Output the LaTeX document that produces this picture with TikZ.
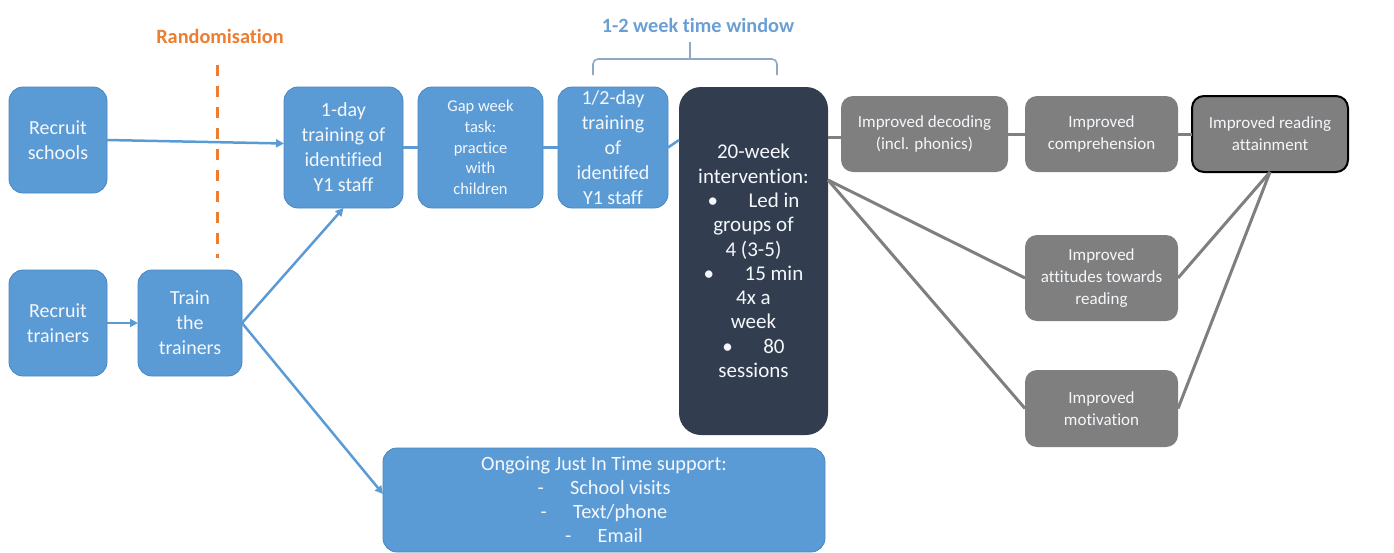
\documentclass[tikz,border=0pt]{standalone}
\usepackage{fontspec}
\setmainfont{Carlito}[Ligatures={NoCommon}]
\usetikzlibrary{arrows.meta,calc}

\definecolor{boxblue}{HTML}{5B9BD5}
\definecolor{boxedge}{HTML}{4A86BE}
\definecolor{darkbox}{HTML}{323E4F}
\definecolor{outgray}{HTML}{7F7F7F}
\definecolor{randorange}{HTML}{ED7D31}
\definecolor{windowblue}{HTML}{6A9FD3}
\definecolor{bracecol}{HTML}{8FA9C4}
\definecolor{boxtext}{HTML}{F4F7FB}

\tikzset{
  basebox/.style={rounded corners=14pt, inner sep=0pt, outer sep=0pt,
    align=center, text=boxtext},
  bluebox/.style={basebox, fill=boxblue, draw=boxedge, line width=0.8pt},
  darkstep/.style={basebox, fill=darkbox, rounded corners=22pt},
  graybox/.style={basebox, fill=outgray, rounded corners=12pt},
  bluelink/.style={draw=boxblue, line width=2.5pt},
  bluearrow/.style={bluelink, -{Triangle[length=8pt,width=8pt]}},
  graylink/.style={draw=outgray, line width=3pt},
  bracket/.style={draw=bracecol, line width=1.6pt},
  bigtext/.style={font=\fontsize{20}{25}\selectfont},
  smalltext/.style={font=\fontsize{16.5}{20.7}\selectfont},
  midtext/.style={font=\fontsize{21}{24.3}\selectfont},
  outtext/.style={font=\fontsize{17}{22}\selectfont},
  heading/.style={font=\fontsize{20.3}{23}\selectfont\bfseries},
}

\begin{document}
\begin{tikzpicture}[x=1pt,y=-1pt]
\useasboundingbox (0,0) rectangle (1394,552);

% headings and the randomisation line
\node[heading, text=randorange] (rand) at (220,36) {Randomisation};
\coordinate (randtop) at (217,65);
\coordinate (randbot) at (217,258);
\draw[randorange, line width=3pt, dash pattern=on 11pt off 10pt] (randtop) -- (randbot);

\node[heading, text=windowblue] (window) at (698,25) {1-2 week time window};
% bracket spanning the second training day and the intervention start
\coordinate (braceL) at (593,75);
\coordinate (braceR) at (777,75);
\coordinate (braceMid) at (690,59);
\coordinate (braceTip) at (690,42);
\draw[bracket, rounded corners=5pt] (braceL) -- (593,59) -- (braceMid) -- (777,59) -- (braceR);
\draw[bracket] (braceMid) -- (braceTip);

% recruitment and training
\node[bluebox, bigtext, minimum width=98pt, minimum height=106pt] (rs) at (58,140) {Recruit\\schools};
\node[bluebox, bigtext, minimum width=98pt, minimum height=106pt] (rt) at (58,323) {Recruit\\trainers};
\node[bluebox, bigtext, minimum width=104pt, minimum height=106pt] (tt) at (190,323) {Train\\the\\trainers};

\node[bluebox, bigtext, minimum width=119pt, minimum height=121pt] (d1) at (343.5,147.5) {1-day\\training of\\identified\\Y1 staff};
\node[bluebox, smalltext, minimum width=125pt, minimum height=121pt] (gap) at (480.5,147.5) {Gap week\\task:\\practice\\with\\children};
\node[bluebox, bigtext, minimum width=110pt, minimum height=121pt] (d2) at (613,147.5) {1/2-day\\training\\of\\identifed\\Y1 staff};

\node[darkstep, midtext, minimum width=149pt, minimum height=348pt] (iv) at (753.5,261)
  {20-week\\intervention:\\\textbullet\hspace{1.45em}Led in\\groups of\\4 (3-5)\\\textbullet\hspace{1.45em}15 min\\4x a\\week\\\textbullet\hspace{1.45em}80\\sessions};

\node[bluebox, font=\fontsize{20.3}{24}\selectfont, minimum width=442pt, minimum height=104pt] (sup) at (604,500)
  {Ongoing Just In Time support:\\-\hspace{1.3em}School visits\\-\hspace{1.3em}Text/phone\\-\hspace{1.3em}Email};

% outcomes
\node[graybox, outtext, minimum width=167pt, minimum height=76pt] (dec) at (924.5,134) {Improved decoding\\(incl. phonics)};
\node[graybox, outtext, minimum width=153pt, minimum height=76pt] (comp) at (1101.5,134) {Improved\\comprehension};
\node[graybox, outtext, minimum width=156pt, minimum height=76pt, draw=black, line width=2pt] (att) at (1270,134) {Improved reading\\attainment};
\node[graybox, outtext, minimum width=153pt, minimum height=86pt] (attd) at (1101.5,278) {Improved\\attitudes towards\\reading};
\node[graybox, outtext, minimum width=153pt, minimum height=77pt] (mot) at (1101.5,408.5) {Improved\\motivation};

% connectors
\draw[bluearrow] (rs.east) -- ([yshift=4pt]d1.west);
\draw[bluearrow] (rt.east) -- (tt.west);
\draw[bluearrow] (tt.east) -- (d1.south);
\draw[bluearrow] (tt.east) -- ([yshift=6pt]sup.west);
\draw[bluelink] (d1.east) -- (gap.west);
\draw[bluelink] (gap.east) -- (d2.west);
\coordinate (ivin) at (iv.west |- 0,140);
\draw[bluelink] (d2.east) -- (ivin);

\coordinate (ivtop) at (iv.east |- 0,137);
\coordinate (ivout) at (iv.east |- 0,180);
\draw[graylink] (ivtop) -- (dec.west |- ivtop);
\draw[graylink] (dec.east) -- (comp.west);
\draw[graylink] (comp.east) -- (att.west);
\draw[graylink] (ivout) -- (attd.west);
\draw[graylink] (ivout) -- (mot.west);
\draw[graylink] (attd.east) -- (att.south);
\draw[graylink] (mot.east) -- (att.south);
\end{tikzpicture}
\end{document}
